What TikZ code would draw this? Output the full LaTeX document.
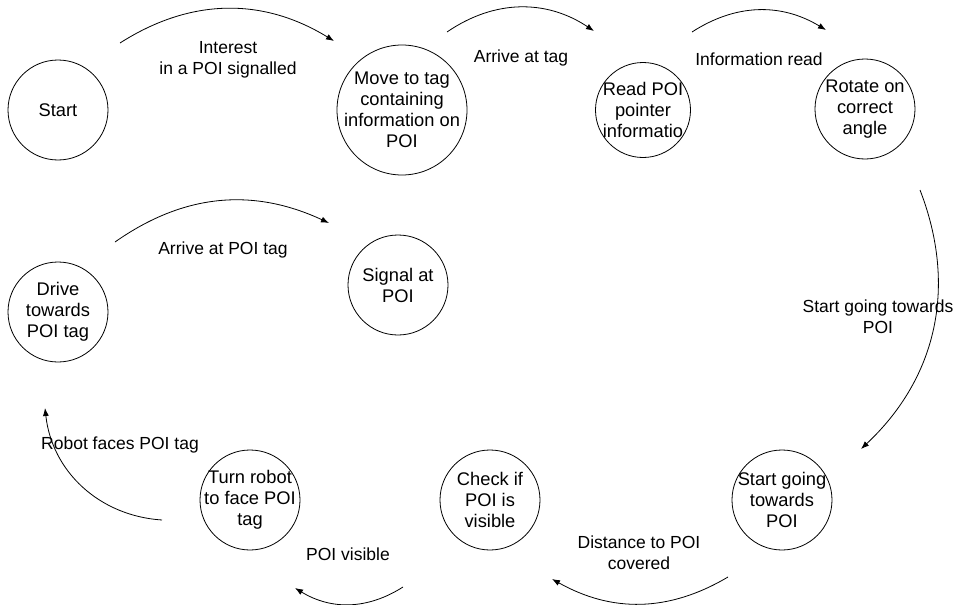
\documentclass[tikz,border=0pt]{standalone}
\usepackage{fontspec}
\setmainfont{Liberation Sans}
\usetikzlibrary{arrows.meta}
\begin{document}
\begin{tikzpicture}[x=1pt,y=-1pt,
  txt/.style={align=center, inner sep=0pt, font=\fontsize{17.5}{21}\selectfont},
  intxt/.style={txt, font=\fontsize{18.3}{21}\selectfont},
  state/.style={draw, circle, line width=0.8pt, inner sep=0pt, minimum size=100pt},
  trans/.style={draw, line width=0.8pt, -{Latex[length=8pt,width=6pt]}}]
\useasboundingbox (0,0) rectangle (962,605);

% states
\node[state, label={[intxt]center:Start}] (start) at (58,110) {};
\node[state, minimum size=130pt,
      label={[intxt]center:{Move to tag\\containing\\information on\\POI}}] (move) at (402,110) {};
\node[state, minimum size=95pt,
      label={[intxt]center:{Read POI\\pointer\\informatio}}] (read) at (643,110) {};
\node[state, label={[intxt]center:{Rotate on\\correct\\angle}}] (rotate) at (865,109) {};
\node[state, label={[intxt]center:{Signal at\\POI}}] (signal) at (398,285) {};
\node[state, label={[intxt]center:{Drive\\towards\\POI tag}}] (drive) at (58,312) {};
\node[state, label={[intxt]center:{Turn robot\\to face POI\\tag}}] (turn) at (250,500) {};
\node[state, label={[intxt]center:{Check if\\POI is\\visible}}] (check) at (490,500) {};
\node[state, label={[intxt]center:{Start going\\towards\\POI}}] (going) at (782,500) {};

% end points of the transition arcs
\coordinate (t1a) at (120,43);  \coordinate (t1b) at (334,41);
\coordinate (t2a) at (447,32);  \coordinate (t2b) at (594,31);
\coordinate (t3a) at (692,32);  \coordinate (t3b) at (826,30);
\coordinate (t4a) at (920,190); \coordinate (t4b) at (861,449);
\coordinate (t5a) at (728,577); \coordinate (t5b) at (552,579);
\coordinate (t6a) at (403,587); \coordinate (t6b) at (295,588);
\coordinate (t7a) at (162,520); \coordinate (t7b) at (45,408);
\coordinate (t8a) at (115,242); \coordinate (t8b) at (329,223);

% transitions
\draw[trans] (t1a) to[bend left=32] (t1b);
\draw[trans] (t2a) to[bend left=34] (t2b);
\draw[trans] (t3a) to[bend left=32] (t3b);
\draw[trans] (t4a) to[bend left=34] (t4b);
\draw[trans] (t5a) to[bend left=30] (t5b);
\draw[trans] (t6a) to[bend left=32] (t6b);
\draw[trans] (t7a) to[bend left=40] (t7b);
\draw[trans] (t8a) to[bend left=30] (t8b);

% transition labels
\node[txt] (l1) at (228,60) {Interest\\in a POI signalled};
\node[txt] (l2) at (521,58) {Arrive at tag};
\node[txt] (l3) at (759,59) {Information read};
\node[txt] (l4) at (878,317) {Start going towards\\POI};
\node[txt] (l5) at (639,553) {Distance to POI\\covered};
\node[txt] (l6) at (348,554) {POI visible};
\node[txt] (l7) at (120,445) {Robot faces POI tag};
\node[txt] (l8) at (223,250) {Arrive at POI tag};
\end{tikzpicture}
\end{document}
